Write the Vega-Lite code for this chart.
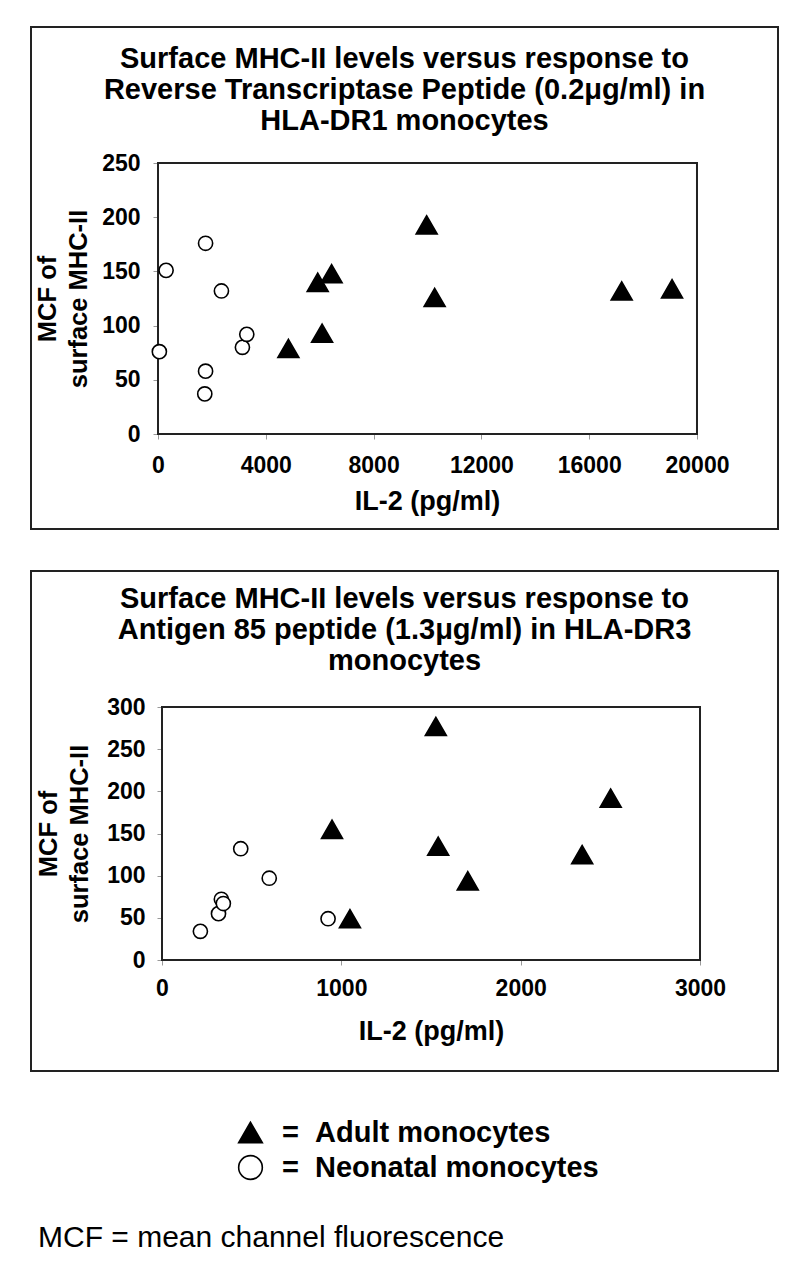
{
  "$schema": "https://vega.github.io/schema/vega-lite/v6.json",
  "background": "white",
  "padding": {"left": 30, "top": 26, "right": 20, "bottom": 20},
  "config": {
    "font": "Liberation Sans",
    "view": {"stroke": "#222", "strokeWidth": 2},
    "axis": {
      "grid": false,
      "domain": false,
      "labelFont": "Liberation Sans",
      "labelFontSize": 23,
      "labelFontWeight": "bold",
      "labelColor": "black",
      "labelFlush": false,
      "labelOverlap": false,
      "tickColor": "#999",
      "tickSize": 5,
      "tickWidth": 1,
      "titleFont": "Liberation Sans",
      "titleFontWeight": "bold",
      "titleColor": "black",
      "titleLineHeight": 31
    },
    "axisX": {"titleFontSize": 27},
    "axisY": {"titleFontSize": 25.5},
    "legend": {
      "title": null,
      "orient": "none",
      "legendX": 205,
      "legendY": 1091,
      "direction": "vertical",
      "labelFont": "Liberation Sans",
      "labelFontSize": 29,
      "labelFontWeight": "bold",
      "labelColor": "black",
      "labelLimit": 500,
      "symbolSize": 560,
      "symbolStrokeWidth": 1.6,
      "labelOffset": 17,
      "rowPadding": 4
    },
    "title": {"font": "Liberation Sans", "fontSize": 29, "fontWeight": "bold", "color": "black", "lineHeight": 31},
    "concat": {"spacing": 40}
  },
  "datasets": {
    "dr1": [
      {"group": "Neonatal monocytes", "il2": 50, "mcf": 76},
      {"group": "Neonatal monocytes", "il2": 300, "mcf": 151},
      {"group": "Neonatal monocytes", "il2": 1765, "mcf": 176},
      {"group": "Neonatal monocytes", "il2": 1765, "mcf": 58},
      {"group": "Neonatal monocytes", "il2": 1735, "mcf": 37},
      {"group": "Neonatal monocytes", "il2": 2353, "mcf": 132},
      {"group": "Neonatal monocytes", "il2": 3132, "mcf": 80},
      {"group": "Neonatal monocytes", "il2": 3294, "mcf": 92},
      {"group": "Adult monocytes", "il2": 4838, "mcf": 79},
      {"group": "Adult monocytes", "il2": 5926, "mcf": 140},
      {"group": "Adult monocytes", "il2": 6441, "mcf": 148},
      {"group": "Adult monocytes", "il2": 6088, "mcf": 93},
      {"group": "Adult monocytes", "il2": 9970, "mcf": 193},
      {"group": "Adult monocytes", "il2": 10265, "mcf": 126},
      {"group": "Adult monocytes", "il2": 17206, "mcf": 132},
      {"group": "Adult monocytes", "il2": 19074, "mcf": 134}
    ],
    "dr3": [
      {"group": "Neonatal monocytes", "il2": 214, "mcf": 34},
      {"group": "Neonatal monocytes", "il2": 315, "mcf": 55},
      {"group": "Neonatal monocytes", "il2": 331, "mcf": 72},
      {"group": "Neonatal monocytes", "il2": 342, "mcf": 67},
      {"group": "Neonatal monocytes", "il2": 439, "mcf": 132},
      {"group": "Neonatal monocytes", "il2": 598, "mcf": 97},
      {"group": "Neonatal monocytes", "il2": 926, "mcf": 49},
      {"group": "Adult monocytes", "il2": 948, "mcf": 155},
      {"group": "Adult monocytes", "il2": 1048, "mcf": 49},
      {"group": "Adult monocytes", "il2": 1527, "mcf": 277},
      {"group": "Adult monocytes", "il2": 1540, "mcf": 135},
      {"group": "Adult monocytes", "il2": 1705, "mcf": 94},
      {"group": "Adult monocytes", "il2": 2343, "mcf": 125},
      {"group": "Adult monocytes", "il2": 2502, "mcf": 192}
    ]
  },
  "title": {
    "text": "MCF = mean channel fluorescence",
    "orient": "bottom",
    "anchor": "start",
    "frame": "bounds",
    "fontSize": 30,
    "fontWeight": "normal",
    "dx": 8,
    "offset": 40
  },
  "vconcat": [
    {
      "width": 747,
      "height": 502,
      "title": {
        "text": ["Surface MHC-II levels versus response to", "Reverse Transcriptase Peptide (0.2μg/ml) in", "HLA-DR1 monocytes"],
        "anchor": "middle",
        "baseline": "top",
        "offset": -109
      },
      "layer": [
        {
          "data": {"values": [{}]},
          "mark": {"type": "rect", "fill": "transparent", "stroke": "#222", "strokeWidth": 2},
          "encoding": {
            "x": {
              "datum": 0, "type": "quantitative",
              "scale": {"domain": [-4713, 23006], "nice": false, "zero": false},
              "axis": {"values": [0, 4000, 8000, 12000, 16000, 20000], "format": "d", "offset": -95, "labelPadding": 15, "title": "IL-2 (pg/ml)", "titleX": 396, "titlePadding": 11}
            },
            "x2": {"datum": 20000},
            "y": {
              "datum": 0, "type": "quantitative",
              "scale": {"domain": [-87.6, 375.5], "nice": false, "zero": false},
              "axis": {"values": [0, 50, 100, 150, 200, 250], "format": "d", "offset": -127, "labelPadding": 13, "title": ["MCF of", "surface MHC-II"], "titleY": 271.5, "titlePadding": 10}
            },
            "y2": {"datum": 250}
          }
        },
        {
          "data": {"name": "dr1"},
          "encoding": {
            "x": {
              "field": "il2", "type": "quantitative",
              "scale": {"domain": [-4713, 23006], "nice": false, "zero": false},
              "axis": {"values": [0, 4000, 8000, 12000, 16000, 20000], "format": "d", "offset": -95, "labelPadding": 15, "title": "IL-2 (pg/ml)", "titleX": 396, "titlePadding": 11}
            },
            "y": {
              "field": "mcf", "type": "quantitative",
              "scale": {"domain": [-87.6, 375.5], "nice": false, "zero": false},
              "axis": {"values": [0, 50, 100, 150, 200, 250], "format": "d", "offset": -127, "labelPadding": 13, "title": ["MCF of", "surface MHC-II"], "titleY": 271.5, "titlePadding": 10}
            },
            "shape": {"field": "group", "type": "nominal", "scale": {"domain": ["Adult monocytes", "Neonatal monocytes"], "range": ["triangle-up", "circle"]}, "legend": {"labelExpr": "'=\u00a0\u00a0' + datum.label"}},
            "fill": {"field": "group", "type": "nominal", "scale": {"domain": ["Adult monocytes", "Neonatal monocytes"], "range": ["black", "white"]}, "legend": {"labelExpr": "'=\u00a0\u00a0' + datum.label"}},
            "stroke": {"field": "group", "type": "nominal", "scale": {"domain": ["Adult monocytes", "Neonatal monocytes"], "range": ["black", "black"]}, "legend": {"labelExpr": "'=\u00a0\u00a0' + datum.label"}}
          },
          "layer": [
            {
              "transform": [{"filter": "datum.group === 'Neonatal monocytes'"}],
              "mark": {"type": "point", "filled": true, "strokeWidth": 1.6, "opacity": 1, "size": 200}
            },
            {
              "transform": [{"filter": "datum.group === 'Adult monocytes'"}],
              "mark": {"type": "point", "filled": true, "strokeWidth": 1.6, "opacity": 1, "size": 440}
            }
          ]
        }
      ]
    },
    {
      "width": 747,
      "height": 500,
      "title": {
        "text": ["Surface MHC-II levels versus response to", "Antigen 85 peptide (1.3μg/ml) in HLA-DR3", "monocytes"],
        "anchor": "middle",
        "baseline": "top",
        "offset": -105
      },
      "layer": [
        {
          "data": {"values": [{}]},
          "mark": {"type": "rect", "fill": "transparent", "stroke": "#222", "strokeWidth": 2},
          "encoding": {
            "x": {
              "datum": 0, "type": "quantitative",
              "scale": {"domain": [-730.5, 3434.9], "nice": false, "zero": false},
              "axis": {"values": [0, 1000, 2000, 3000], "format": "d", "offset": -111, "labelPadding": 12, "title": "IL-2 (pg/ml)", "titleX": 400, "titlePadding": 18}
            },
            "x2": {"datum": 3000},
            "y": {
              "datum": 0, "type": "quantitative",
              "scale": {"domain": [-131.6, 461.3], "nice": false, "zero": false},
              "axis": {"values": [0, 50, 100, 150, 200, 250, 300], "format": "d", "offset": -131, "labelPadding": 12, "title": ["MCF of", "surface MHC-II"], "titleY": 262.5, "titlePadding": 14}
            },
            "y2": {"datum": 300}
          }
        },
        {
          "data": {"name": "dr3"},
          "encoding": {
            "x": {
              "field": "il2", "type": "quantitative",
              "scale": {"domain": [-730.5, 3434.9], "nice": false, "zero": false},
              "axis": {"values": [0, 1000, 2000, 3000], "format": "d", "offset": -111, "labelPadding": 12, "title": "IL-2 (pg/ml)", "titleX": 400, "titlePadding": 18}
            },
            "y": {
              "field": "mcf", "type": "quantitative",
              "scale": {"domain": [-131.6, 461.3], "nice": false, "zero": false},
              "axis": {"values": [0, 50, 100, 150, 200, 250, 300], "format": "d", "offset": -131, "labelPadding": 12, "title": ["MCF of", "surface MHC-II"], "titleY": 262.5, "titlePadding": 14}
            },
            "shape": {"field": "group", "type": "nominal", "scale": {"domain": ["Adult monocytes", "Neonatal monocytes"], "range": ["triangle-up", "circle"]}, "legend": {"labelExpr": "'=\u00a0\u00a0' + datum.label"}},
            "fill": {"field": "group", "type": "nominal", "scale": {"domain": ["Adult monocytes", "Neonatal monocytes"], "range": ["black", "white"]}, "legend": {"labelExpr": "'=\u00a0\u00a0' + datum.label"}},
            "stroke": {"field": "group", "type": "nominal", "scale": {"domain": ["Adult monocytes", "Neonatal monocytes"], "range": ["black", "black"]}, "legend": {"labelExpr": "'=\u00a0\u00a0' + datum.label"}}
          },
          "layer": [
            {
              "transform": [{"filter": "datum.group === 'Neonatal monocytes'"}],
              "mark": {"type": "point", "filled": true, "strokeWidth": 1.6, "opacity": 1, "size": 200}
            },
            {
              "transform": [{"filter": "datum.group === 'Adult monocytes'"}],
              "mark": {"type": "point", "filled": true, "strokeWidth": 1.6, "opacity": 1, "size": 440}
            }
          ]
        }
      ]
    }
  ]
}
